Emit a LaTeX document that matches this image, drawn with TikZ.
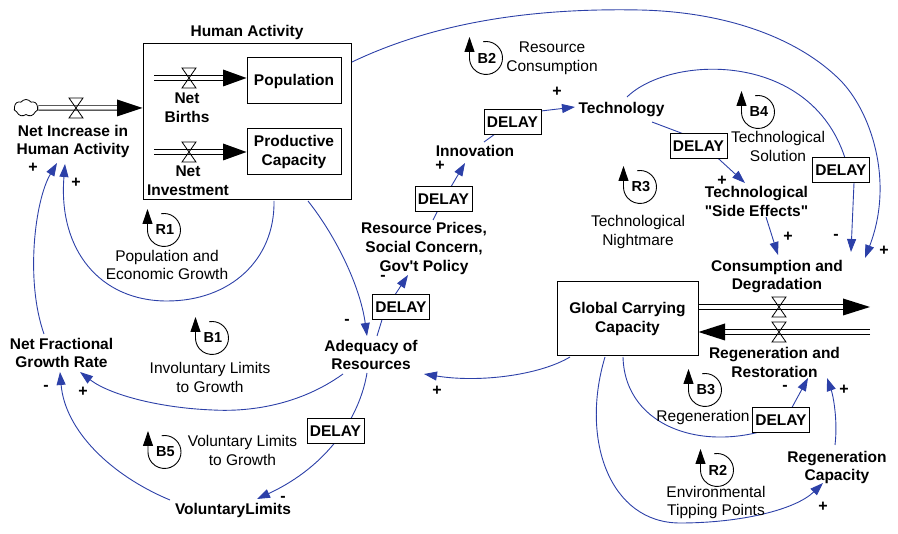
\documentclass[tikz,border=0pt]{standalone}
\usepackage{fontspec}
\setmainfont{Liberation Sans}[Ligatures=TeXOff]
\usetikzlibrary{arrows.meta,shapes.symbols,calc}
\definecolor{lnk}{RGB}{44,64,168}
\newcommand\lpmark[3]{%
  \coordinate (#1) at #2;
  \draw[mkline] ($(#1)+(-100:16.5)$) arc[start angle=-100,end angle=180,radius=16.5] -- ++(0,-21);
  \node[mktxt] at ($(#1)+(1,0)$) {#3};}
\newcommand\flowvalve[1]{%
  \draw[line width=0.8pt] ($(#1)+(-7,-10)$) -- ($(#1)+(7,-10)$) -- ($(#1)+(-7,10)$) -- ($(#1)+(7,10)$) -- cycle;}
\begin{document}
\begin{tikzpicture}[x=1pt,y=-1pt,
  lbl/.style={font=\fontsize{15.5}{18.8}\selectfont\bfseries, align=center, inner sep=0pt},
  txt/.style={font=\fontsize{15.5}{18.8}\selectfont, align=center, inner sep=0pt},
  sgn/.style={font=\fontsize{16}{18}\selectfont\bfseries, inner sep=0pt},
  stock/.style={draw, line width=1pt, align=center, inner sep=0pt, font=\fontsize{15.5}{18.8}\selectfont\bfseries},
  dly/.style={draw, line width=1pt, fill=white, inner sep=0pt, minimum width=57pt, minimum height=25pt, font=\fontsize{15.5}{18}\selectfont\bfseries},
  conn/.style={draw=lnk, line width=0.9pt, -{Triangle[length=13pt,width=9pt]}},
  mkline/.style={line width=0.9pt, -{Triangle[length=15pt,width=10pt]}},
  mktxt/.style={font=\fontsize{14.5}{16}\selectfont\bfseries, inner sep=0pt},
  pipe/.style={double, double distance=3.5pt, line width=0.9pt}
]
\useasboundingbox (0,0) rectangle (898,534);

% ---------- stocks and variables ----------
\node[stock, minimum width=208pt, minimum height=156pt] (ha) at (247,122) {};
\node[lbl] (hat) at (247,32) {Human Activity};
\node[stock, minimum width=94pt, minimum height=46pt] (pop) at (294,81) {Population};
\node[stock, minimum width=94pt, minimum height=46pt] (pc) at (294,152) {Productive\\Capacity};
\node[stock, minimum width=141pt, minimum height=74pt] (gcc) at (627.5,319) {Global Carrying\\Capacity};

\node[lbl] (ni) at (73,141.5) {Net Increase in\\Human Activity};
\node[lbl] (nb) at (187,108) {Net\\Births};
\node[lbl] (nv) at (188,181) {Net\\Investment};
\node[lbl] (nf) at (61.5,353) {Net Fractional\\Growth Rate};
\node[lbl] (aq) at (371,355) {Adequacy of\\Resources};
\node[lbl] (vl) at (233,510) {VoluntaryLimits};
\node[lbl] (rp) at (424,248.5) {Resource Prices,\\Social Concern,\\Gov't Policy};
\node[lbl] (inn) at (475,151) {Innovation};
\node[lbl] (tec) at (621.5,110) {Technology};
\node[lbl] (se) at (756.5,201.5) {Technological\\"Side Effects"};
\node[lbl] (cd) at (777,276.5) {Consumption and\\Degradation};
\node[lbl] (rr) at (774.5,362.5) {Regeneration and\\Restoration};
\node[lbl] (rc) at (837,467.5) {Regeneration\\Capacity};

% ---------- flows ----------
\node[cloud, draw, cloud puffs=7, cloud puff arc=110, aspect=1.4, minimum width=24pt, minimum height=17pt, inner sep=0pt, line width=0.8pt] (cld) at (26,108) {};
\coordinate (niA) at (117,108);
\draw[pipe] (cld.east) -- (niA);
\fill (117,99.5) -- (ha.west |- niA) -- (117,116.5) -- cycle;
\coordinate (nivv) at (76,108); \flowvalve{nivv}

\coordinate (nbS) at (154,78); \coordinate (nbA) at (223,78);
\draw[pipe] (nbS) -- (nbA);
\fill (223,69.5) -- (pop.west |- nbA) -- (223,86.5) -- cycle;
\coordinate (nbv) at (189,78); \flowvalve{nbv}

\coordinate (nvS) at (154,152); \coordinate (nvA) at (223,152);
\draw[pipe] (nvS) -- (nvA);
\fill (223,143.5) -- (pc.west |- nvA) -- (223,160.5) -- cycle;
\coordinate (nvv) at (189,152); \flowvalve{nvv}

\coordinate (cdS) at (698,307); \coordinate (cdA) at (843,307);
\draw[pipe] (gcc.east |- cdS) -- (cdA);
\fill (843,298.5) -- (870,307) -- (843,315.5) -- cycle;
\coordinate (cdv) at (779,307); \flowvalve{cdv}

\coordinate (rrS) at (870,332); \coordinate (rrA) at (725,332);
\draw[pipe] (rrS) -- (rrA);
\fill (725,323.5) -- (gcc.east |- rrA) -- (725,340.5) -- cycle;
\coordinate (rrv) at (779,332); \flowvalve{rrv}

% ---------- delay positions ----------
\coordinate (d1) at (512.5,122.5);
\coordinate (d2) at (443.5,199.5);
\coordinate (d3) at (401,307);
\coordinate (d4) at (698.5,146);
\coordinate (d5) at (841,170.5);
\coordinate (d6) at (335.5,431.5);
\coordinate (d7) at (781,420.5);

% ---------- connector end points ----------
\coordinate (haB) at (308,201);   \coordinate (aqT1) at (367,336);
\coordinate (aqT2) at (377,336);  \coordinate (rpB) at (408,275);
\coordinate (rpT) at (433,220);   \coordinate (innB) at (465,163);
\coordinate (innT) at (484,142);  \coordinate (tecL) at (575,107);
\coordinate (tecR) at (652,122);  \coordinate (seT) at (745,183);
\coordinate (tecT) at (627,97);   \coordinate (cdT1) at (851,252);
\coordinate (haR) at (352,62);    \coordinate (cdT2) at (865,258);
\coordinate (seB) at (766,217);   \coordinate (cdT0) at (778,255);
\coordinate (gccL) at (570,357);  \coordinate (aqR) at (424,374);
\coordinate (aqL) at (343,374);   \coordinate (nfR) at (80,372);
\coordinate (aqB) at (367,373);   \coordinate (vlT) at (257,499);
\coordinate (vlL) at (170,500);   \coordinate (nfB) at (60,372);
\coordinate (nfT) at (44,334);    \coordinate (niB1) at (57,163);
\coordinate (haB2) at (274,201);  \coordinate (niB2) at (65,164);
\coordinate (gccB1) at (623,357); \coordinate (rrB1) at (808,378);
\coordinate (rcT) at (835,445);   \coordinate (rrB2) at (827,378);
\coordinate (gccB2) at (605,357); \coordinate (rcB) at (823,483);

% ---------- connectors ----------
\draw[conn] (haB) .. controls (335,235) and (360,285) .. (aqT1);
\draw[conn] (aqT2) -- (385,310) -- (rpB);
\draw[conn] (rpT) -- (d2) -- (innB);
\draw[conn] (innT) -- (524,113) -- (tecL);
\draw[conn] (tecR) -- (697,139) -- (seT);
\draw[conn] (tecT) .. controls (670,55) and (810,50) .. (845,158) -- (854,183) -- (cdT1);
\draw[conn] (haR) .. controls (440,20) and (540,8) .. (640,10) .. controls (730,12) and (800,40) .. (840,80) .. controls (870,110) and (895,180) .. (cdT2);
\draw[conn] (seB) -- (cdT0);
\draw[conn] (gccL) .. controls (540,375) and (480,383) .. (aqR);
\draw[conn] (aqL) .. controls (300,405) and (250,412) .. (213,410) .. controls (160,408) and (110,395) .. (nfR);
\draw[conn] (aqB) .. controls (360,415) and (330,465) .. (vlT);
\draw[conn] (vlL) .. controls (110,475) and (65,430) .. (nfB);
\draw[conn] (nfT) .. controls (25,280) and (35,200) .. (niB1);
\draw[conn] (haB2) .. controls (275,260) and (230,301) .. (167,301) .. controls (100,301) and (58,250) .. (niB2);
\draw[conn] (gccB1) .. controls (625,430) and (710,455) .. (783,424) -- (rrB1);
\draw[conn] (rcT) .. controls (838,420) and (833,395) .. (rrB2);
\draw[conn] (gccB2) .. controls (580,440) and (610,523) .. (680,523) .. controls (740,523) and (795,510) .. (rcB);

% ---------- delays ----------
\foreach \d in {d1,d2,d3,d4,d5,d6,d7} \node[dly] at (\d) {DELAY};

% ---------- polarity signs ----------
\node[sgn] at (33,168) {+};
\node[sgn] at (76,183) {+};
\node[sgn] at (347,322) {-};
\node[sgn] at (383,278) {-};
\node[sgn] at (440,166) {+};
\node[sgn] at (557,92) {+};
\node[sgn] at (722,181) {+};
\node[sgn] at (788,237) {+};
\node[sgn] at (836,237) {-};
\node[sgn] at (884,251) {+};
\node[sgn] at (437,391) {+};
\node[sgn] at (83,392) {+};
\node[sgn] at (46,388) {-};
\node[sgn] at (283,499) {-};
\node[sgn] at (785,388) {-};
\node[sgn] at (844,390) {+};
\node[sgn] at (823,507) {+};

% ---------- loop markers ----------
\lpmark{r1}{(164,230)}{R1}
\lpmark{b1}{(212,338)}{B1}
\lpmark{b5}{(164.5,452)}{B5}
\lpmark{b2}{(486,58)}{B2}
\lpmark{r3}{(640,187)}{R3}
\lpmark{b4}{(758,112)}{B4}
\lpmark{b3}{(705,390)}{B3}
\lpmark{r2}{(717,470)}{R2}

\node[txt] (l1) at (167,265) {Population and\\Economic Growth};
\node[txt] (l2) at (210,377.5) {Involuntary Limits\\to Growth};
\node[txt] (l3) at (242.5,450.5) {Voluntary Limits\\to Growth};
\node[txt] (l4) at (552,58) {Resource\\Consumption};
\node[txt] (l5) at (638,232) {Technological\\Nightmare};
\node[txt] (l6) at (778,146.5) {Technological\\Solution};
\node[txt] (l7) at (703,417) {Regeneration};
\node[txt] (l8) at (716,502.5) {Environmental\\Tipping Points};
\end{tikzpicture}
\end{document}
